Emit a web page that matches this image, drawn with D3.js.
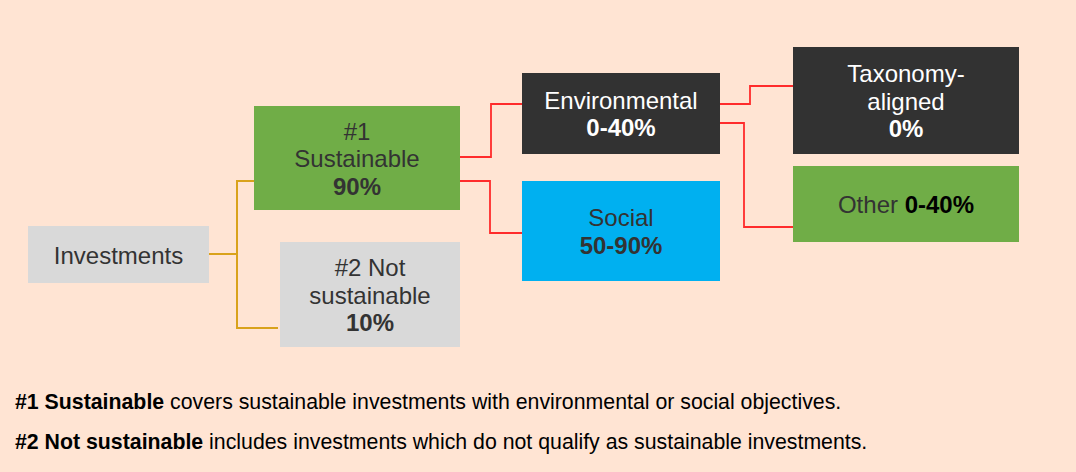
<!DOCTYPE html>
<html>
<head>
<meta charset="utf-8">
<script src="https://cdn.jsdelivr.net/npm/d3@7"></script>
<style>
  html, body { margin: 0; padding: 0; background: #FFE4D3; }
  svg { display: block; font-family: "Liberation Sans", Arial, sans-serif; }
</style>
</head>
<body>
<svg id="chart" width="1076" height="472"></svg>
<script>
// ---- data ----
const nodeIds     = ["inv", "sus", "notsus", "env", "soc", "tax", "oth"];
const nodeNames   = [["Investments"], ["#1", "Sustainable"], ["#2 Not", "sustainable"], ["Environmental"], ["Social"], ["Taxonomy-", "aligned"], ["Other"]];
const nodeValues  = ["", "90%", "10%", "0-40%", "50-90%", "0%", "0-40%"];
const nodeParents = [null, "inv", "inv", "sus", "sus", "env", "env"];
const nodeDepth   = [0, 1, 1, 2, 2, 3, 3];
const footnoteBold = ["#1 Sustainable", "#2 Not sustainable"];
const footnoteText = [" covers sustainable investments with environmental or social objectives.",
                      " includes investments which do not qualify as sustainable investments."];

// ---- styling / layout ----
const styles = {
  inv:    {fill: "#D9D9D9", text: "#333333"},
  sus:    {fill: "#70AD47", text: "#333333"},
  notsus: {fill: "#D9D9D9", text: "#333333"},
  env:    {fill: "#323232", text: "#FFFFFF"},
  soc:    {fill: "#00B0F0", text: "#333333"},
  tax:    {fill: "#323232", text: "#FFFFFF"},
  oth:    {fill: "#70AD47", text: "#333333"}
};
// box geometry: left, top, right, bottom (layout, not data)
const layout = {
  inv:    [28, 226, 209, 283],
  sus:    [254, 106, 460, 210],
  notsus: [280, 242, 460, 347],
  env:    [522, 73, 720, 154],
  soc:    [522, 181, 720, 281],
  tax:    [793, 47, 1019, 154],
  oth:    [793, 166, 1019, 242]
};
// connector attach points
const linkLayout = {
  sus:    {sy: 254, mx: 237, ty: 181, color: "#D9A21B"},
  notsus: {sy: 254, mx: 237, ty: 328, tx: 278, color: "#D9A21B"},
  env:    {sy: 157, mx: 491, ty: 104, color: "#FF2B2B"},
  soc:    {sy: 181, mx: 490, ty: 233, color: "#FF2B2B"},
  tax:    {sy: 104, mx: 750, ty: 86,  color: "#FF2B2B"},
  oth:    {sy: 123, mx: 744, ty: 227, color: "#FF2B2B"}
};

const svg = d3.select("#chart");
svg.append("rect").attr("width", 1076).attr("height", 472).attr("fill", "#FFE4D3");

const nodes = nodeIds.map((id, i) => ({
  id, names: nodeNames[i], value: nodeValues[i], parent: nodeParents[i], depth: nodeDepth[i]
}));

const x = d3.scaleIdentity();
const y = d3.scaleIdentity();

// links
const links = nodes.filter(n => n.parent);
svg.append("g").selectAll("path").data(links).join("path")
  .attr("fill", "none")
  .attr("stroke", d => linkLayout[d.id].color)
  .attr("stroke-width", d => d.depth === 1 ? 2 : 1.8)
  .attr("d", d => {
    const p = layout[d.parent], c = layout[d.id], L = linkLayout[d.id];
    const tx = L.tx !== undefined ? L.tx : c[0];
    const path = d3.path();
    path.moveTo(x(p[2]), y(L.sy));
    path.lineTo(x(L.mx), y(L.sy));
    path.lineTo(x(L.mx), y(L.ty));
    path.lineTo(x(tx), y(L.ty));
    return path.toString();
  });

// boxes
const g = svg.append("g").selectAll("g").data(nodes).join("g");
g.append("rect")
  .attr("x", d => x(layout[d.id][0]))
  .attr("y", d => y(layout[d.id][1]))
  .attr("width", d => layout[d.id][2] - layout[d.id][0])
  .attr("height", d => layout[d.id][3] - layout[d.id][1])
  .attr("fill", d => styles[d.id].fill);

const fs = 24, lh = 27.5;
g.each(function(d) {
  const b = layout[d.id];
  const cx = (b[0] + b[2]) / 2, cy = (b[1] + b[3]) / 2;
  const sel = d3.select(this);
  const color = styles[d.id].text;
  if (d.id === "oth") {
    const t = sel.append("text").attr("x", cx).attr("y", cy + 0.5).attr("dy", "0.36em")
      .attr("text-anchor", "middle").attr("font-size", fs).attr("fill", color);
    t.append("tspan").text(d.names[0] + " ");
    t.append("tspan").attr("font-weight", "bold").attr("fill", "#000").text(d.value);
    return;
  }
  const lines = d.names.map(s => ({s, bold: false}));
  if (d.value) lines.push({s: d.value, bold: true});
  const n = lines.length;
  lines.forEach((ln, i) => {
    sel.append("text")
      .attr("x", cx)
      .attr("y", cy + 0.5 + (i - (n - 1) / 2) * lh)
      .attr("dy", "0.36em")
      .attr("text-anchor", "middle")
      .attr("font-size", fs)
      .attr("font-weight", ln.bold ? "bold" : "normal")
      .attr("fill", color)
      .text(ln.s);
  });
});

// footnotes
footnoteBold.forEach((b, i) => {
  const t = svg.append("text")
    .attr("x", 15).attr("y", 401 + i * 40).attr("dy", "0.36em")
    .attr("font-size", 21.3).attr("fill", "#000");
  t.append("tspan").attr("font-weight", "bold").text(b);
  t.append("tspan").text(footnoteText[i]);
});
</script>
</body>
</html>
